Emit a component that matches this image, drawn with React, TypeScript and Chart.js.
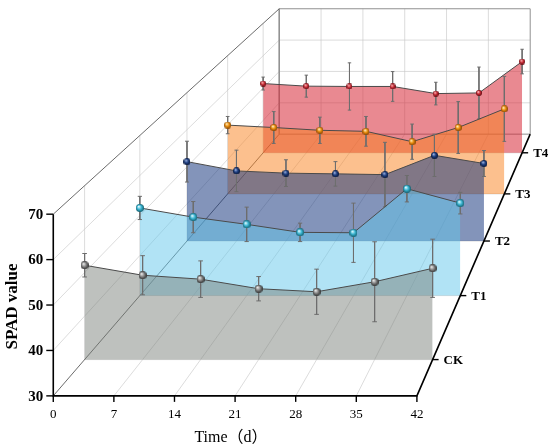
import React, { useEffect, useRef } from 'react';
import { Chart, registerables } from 'chart.js';

Chart.register(...registerables);

// ---- data ----
const days = [0, 7, 14, 21, 28, 35, 42];
const yTicks = [30, 40, 50, 60, 70];
const groups = ['CK', 'T1', 'T2', 'T3', 'T4'];

const ckMeans = [51.7, 49.4, 48.5, 46.3, 45.6, 47.9, 51.0];
const ckErrors = [2.7, 4.5, 4.2, 2.8, 5.2, 9.2, 6.7];
const t1Means = [51.9, 49.6, 47.8, 45.8, 45.7, 56.7, 53.1];
const t1Errors = [2.9, 3.9, 4.3, 2.3, 7.4, 3.3, 2.7];
const t2Means = [51.4, 48.9, 48.3, 48.1, 47.9, 53.1, 50.9];
const t2Errors = [5.5, 5.6, 3.6, 3.3, 8.7, 5.7, 3.5];
const t3Means = [49.9, 49.2, 48.4, 48.1, 45.1, 49.2, 54.6];
const t3Errors = [2.5, 4.6, 3.8, 4.3, 5.1, 7.5, 9.4];
const t4Means = [51.4, 50.6, 50.5, 50.5, 48.3, 48.5, 58.2];
const t4Errors = [2.0, 3.4, 7.3, 4.6, 3.5, 8.0, 3.8];

const groupMeans = [ckMeans, t1Means, t2Means, t3Means, t4Means];
const groupErrors = [ckErrors, t1Errors, t2Errors, t3Errors, t4Errors];

// ---- styles ----
const groupFill = [
  'rgba(120,125,120,0.48)',
  'rgba(100,200,235,0.5)',
  'rgba(30,60,130,0.55)',
  'rgba(250,130,30,0.5)',
  'rgba(215,40,55,0.55)',
];
const groupBall = [
  ['#f0f0f0', '#8a8a8a', '#303030'],
  ['#e6fbff', '#3cb8d6', '#12606f'],
  ['#9fb4e0', '#1e3f82', '#08173a'],
  ['#fff2c8', '#f0920e', '#844400'],
  ['#ffc8c8', '#cf2a36', '#5e080e'],
];
const SERIF = '"Liberation Serif", "Times New Roman", "Noto Sans CJK SC", serif';

// ---- perspective box ----
const W = 550;
const H = 448;
const X_MIN = 0, X_MAX = 42, Y_MIN = 30, Y_MAX = 70;
const FRONT = { left: 50, right: 419, top: 214, bottom: 399 };
const VANISH = { x: 790, y: -461 };
const DEPTH_K = 0.449;

const pxPerDay = (FRONT.right - FRONT.left) / (X_MAX - X_MIN);
const pxPerUnit = (FRONT.bottom - FRONT.top) / (Y_MAX - Y_MIN);
const scaleX = { min: X_MIN - FRONT.left / pxPerDay, max: X_MIN + (W - FRONT.left) / pxPerDay };
const scaleY = { min: Y_MIN - (H - FRONT.bottom) / pxPerUnit, max: Y_MIN + FRONT.bottom / pxPerUnit };
const vx = X_MIN + (VANISH.x - FRONT.left) / pxPerDay;
const vy = Y_MIN + (FRONT.bottom - VANISH.y) / pxPerUnit;

const depthOf = (g: number) => (g + 0.5) / groups.length;
const shrink = (z: number) => 1 / (1 + DEPTH_K * z);
const project = (day: number, value: number, z: number) => {
  const s = shrink(z);
  return { x: vx + s * (day - vx), y: vy + s * (value - vy) };
};

type P = { x: number; y: number | null };
const segments = (pairs: [P, P][]) => {
  const out: P[] = [];
  pairs.forEach(([a, b]) => {
    out.push(a, b, { x: b.x, y: null });
  });
  return out;
};

const lineSet = (data: P[], color: string, width: number) => ({
  data,
  borderColor: color,
  backgroundColor: color,
  borderWidth: width,
  pointRadius: 0,
  fill: false,
});

const makeBall = (colors: string[], d: number) => {
  const c = document.createElement('canvas');
  c.width = d;
  c.height = d;
  const g = c.getContext('2d')!;
  const r = d / 2;
  const grad = g.createRadialGradient(r * 0.7, r * 0.62, r * 0.08, r, r, r);
  grad.addColorStop(0, colors[0]);
  grad.addColorStop(0.5, colors[1]);
  grad.addColorStop(1, colors[2]);
  g.fillStyle = grad;
  g.beginPath();
  g.arc(r, r, r, 0, Math.PI * 2);
  g.fill();
  return c;
};

const buildDatasets = () => {
  const sets: any[] = [];
  const inner = days.slice(1, -1);
  const midTicks = yTicks.slice(1, -1);

  // grid: back wall, left wall, floor
  const grid: [P, P][] = [];
  inner.forEach(d => grid.push([project(d, Y_MIN, 1), project(d, Y_MAX, 1)]));
  midTicks.forEach(v => grid.push([project(X_MIN, v, 1), project(X_MAX, v, 1)]));
  midTicks.forEach(v => grid.push([project(X_MIN, v, 0), project(X_MIN, v, 1)]));
  groups.forEach((_, g) => grid.push([project(X_MIN, Y_MIN, depthOf(g)), project(X_MIN, Y_MAX, depthOf(g))]));
  inner.forEach(d => grid.push([project(d, Y_MIN, 0), project(d, Y_MIN, 1)]));
  groups.forEach((_, g) => grid.push([project(X_MIN, Y_MIN, depthOf(g)), project(X_MAX, Y_MIN, depthOf(g))]));
  sets.push(lineSet(segments(grid), 'rgba(200,200,200,0.9)', 0.7));

  // back wall frame
  const back = [
    project(X_MIN, Y_MIN, 1), project(X_MAX, Y_MIN, 1), project(X_MAX, Y_MAX, 1),
    project(X_MIN, Y_MAX, 1), project(X_MIN, Y_MIN, 1),
  ];
  sets.push(lineSet(back, '#909090', 1));

  // left edges of the box
  sets.push(lineSet(segments([
    [project(X_MIN, Y_MAX, 0), project(X_MIN, Y_MAX, 1)],
    [project(X_MIN, Y_MIN, 0), project(X_MIN, Y_MIN, 1)],
  ]), '#5a5a5a', 0.9));

  // series, back to front
  for (let g = groups.length - 1; g >= 0; g--) {
    const z = depthOf(g);
    const means = groupMeans[g];
    const errs = groupErrors[g];
    const pts = days.map((d, i) => project(d, means[i], z));
    const floor = project(X_MIN, Y_MIN, z).y;

    sets.push({
      data: pts,
      borderColor: '#4a4a4a',
      borderWidth: 1,
      backgroundColor: groupFill[g],
      pointRadius: 0,
      fill: { value: floor },
    });

    const cap = 0.28;
    const bars: [P, P][] = [];
    days.forEach((d, i) => {
      const hi = means[i] + errs[i];
      const lo = means[i] - errs[i];
      bars.push([project(d - cap, hi, z), project(d + cap, hi, z)]);
      bars.push([project(d, hi, z), project(d, lo, z)]);
      bars.push([project(d - cap, lo, z), project(d + cap, lo, z)]);
    });
    sets.push(lineSet(segments(bars), '#6e6e6e', 1));

    const size = Math.max(5, Math.round(8.6 * shrink(z)));
    sets.push({
      data: pts,
      showLine: false,
      pointStyle: makeBall(groupBall[g], size),
      pointRadius: 4,
      borderWidth: 0,
      borderColor: 'rgba(0,0,0,0)',
      backgroundColor: 'rgba(0,0,0,0)',
      fill: false,
    });
  }

  // front axes
  sets.push(lineSet([project(X_MIN, Y_MAX, 0), project(X_MIN, Y_MIN, 0), project(X_MAX, Y_MIN, 0), project(X_MAX, Y_MIN, 1)], '#000', 1.6));

  const n = sets.length;
  return sets.map((s, i) => ({ ...s, order: n - i }));
};

const labelsPlugin = {
  id: 'boxLabels',
  afterDraw(chart: any) {
    const { ctx } = chart;
    const sx = chart.scales.x;
    const sy = chart.scales.y;
    const px = (p: { x: number; y: number }) => ({ x: sx.getPixelForValue(p.x), y: sy.getPixelForValue(p.y) });
    const tick = (x1: number, y1: number, x2: number, y2: number) => {
      ctx.beginPath();
      ctx.moveTo(x1, y1);
      ctx.lineTo(x2, y2);
      ctx.stroke();
    };
    ctx.save();
    ctx.strokeStyle = '#000';
    ctx.fillStyle = '#000';
    ctx.lineWidth = 1.4;

    ctx.font = `bold 15px ${SERIF}`;
    ctx.textAlign = 'right';
    ctx.textBaseline = 'middle';
    yTicks.forEach(v => {
      const p = px(project(X_MIN, v, 0));
      tick(p.x - 7, p.y, p.x, p.y);
      ctx.fillText(String(v), p.x - 10, p.y + 1);
    });

    ctx.font = `13px ${SERIF}`;
    ctx.textAlign = 'center';
    days.forEach(d => {
      const p = px(project(d, Y_MIN, 0));
      tick(p.x, p.y, p.x, p.y + 6);
      ctx.fillText(String(d), p.x, p.y + 19);
    });

    ctx.font = `bold 13px ${SERIF}`;
    ctx.textAlign = 'left';
    groups.forEach((name, g) => {
      const p = px(project(X_MAX, Y_MIN, depthOf(g)));
      tick(p.x, p.y, p.x + 6, p.y);
      ctx.fillText(name, p.x + 11, p.y + 1);
    });

    ctx.font = `16px ${SERIF}`;
    ctx.textAlign = 'center';
    ctx.fillText('Time（d）', 231, 438);

    ctx.font = `bold 17px ${SERIF}`;
    ctx.translate(13, (FRONT.top + FRONT.bottom) / 2);
    ctx.rotate(-Math.PI / 2);
    ctx.fillText('SPAD value', 0, 0);
    ctx.restore();
  },
};

const App: React.FC = () => {
  const canvasRef = useRef<HTMLCanvasElement | null>(null);

  useEffect(() => {
    const canvas = canvasRef.current;
    if (!canvas) return;
    const chart = new Chart(canvas, {
      type: 'line',
      data: { datasets: buildDatasets() },
      options: {
        responsive: true,
        maintainAspectRatio: false,
        animation: false,
        events: [],
        layout: { padding: 0 },
        elements: { line: { tension: 0 } },
        plugins: { legend: { display: false }, tooltip: { enabled: false } },
        scales: {
          x: { type: 'linear', display: false, min: scaleX.min, max: scaleX.max },
          y: { type: 'linear', display: false, min: scaleY.min, max: scaleY.max },
        },
      },
      plugins: [labelsPlugin],
    } as any);
    return () => chart.destroy();
  }, []);

  return (
    <div style={{ position: 'fixed', left: 0, top: 0, width: W, height: H, background: '#fff' }}>
      <canvas ref={canvasRef} />
    </div>
  );
};

export default App;
